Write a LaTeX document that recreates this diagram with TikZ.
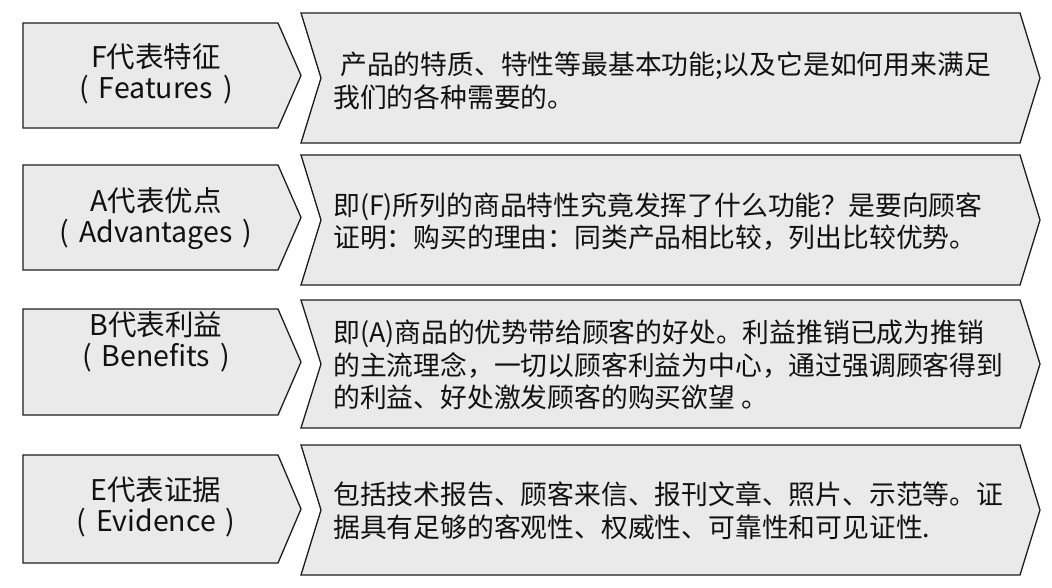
\documentclass[tikz,border=0pt]{standalone}
\usepackage{fontspec}
\setmainfont{Noto Sans CJK SC}
\definecolor{boxfill}{HTML}{EAEAEA}
\definecolor{boxedge}{HTML}{1E1E1E}
\definecolor{ink}{HTML}{111111}
\newcommand{\pgap}{\hspace{10pt}}
\begin{document}
\begin{tikzpicture}[x=1pt,y=-1pt,
  shapebox/.style={fill=boxfill,draw=boxedge,line width=1.3pt,line join=miter},
  keytext/.style={inner sep=0pt,align=center,text=ink,font=\fontsize{28.5}{31}\selectfont},
  desctext/.style={inner sep=0pt,align=left,anchor=west,text=ink,font=\fontsize{26.8}{32.5}\selectfont}]
\useasboundingbox (0,0) rectangle (1052,588);
\fill[white] (0,0) rectangle (1052,588);
% rows: left top/bottom, right top/bottom
\foreach \lt/\lb/\rt/\rb in {23/128/13/143, 165/270/155/285, 309/415/300/428, 455/563/445/575}{
  \pgfmathsetmacro{\lm}{(\lt+\lb)/2}
  \pgfmathsetmacro{\rm}{(\rt+\rb)/2}
  \draw[shapebox] (23,\lt) -- (278,\lt) -- (301,\lm) -- (278,\lb) -- (23,\lb) -- cycle;
  \draw[shapebox] (301,\rt) -- (1020,\rt) -- (1040,\rm) -- (1020,\rb) -- (301,\rb) -- (321,\rm) -- cycle;
}
\node[keytext] (kf) at (156,74) {F代表特征\\(\pgap Features\pgap)};
\node[keytext] (ka) at (156,218.5) {A代表优点\\(\pgap Advantages\pgap)};
\node[keytext] (kb) at (156,342) {B代表利益\\(\pgap Benefits\pgap)};
\node[keytext] (ke) at (156,507) {E代表证据\\(\pgap Evidence\pgap)};
\node[desctext] (df) at (333,81) {\hspace{7pt}产品的特质、特性等最基本功能;以及它是如何用来满足\\我们的各种需要的。};
\node[desctext] (da) at (333,221.5) {即(F)所列的商品特性究竟发挥了什么功能？是要向顾客\\证明：购买的理由：同类产品相比较，列出比较优势。};
\node[desctext] (db) at (333,365) {即(A)商品的优势带给顾客的好处。利益推销已成为推销\\的主流理念，一切以顾客利益为中心，通过强调顾客得到\\的利益、好处激发顾客的购买欲望 。};
\node[desctext] (de) at (333,510.5) {包括技术报告、顾客来信、报刊文章、照片、示范等。证\\据具有足够的客观性、权威性、可靠性和可见证性.};
\end{tikzpicture}
\end{document}
